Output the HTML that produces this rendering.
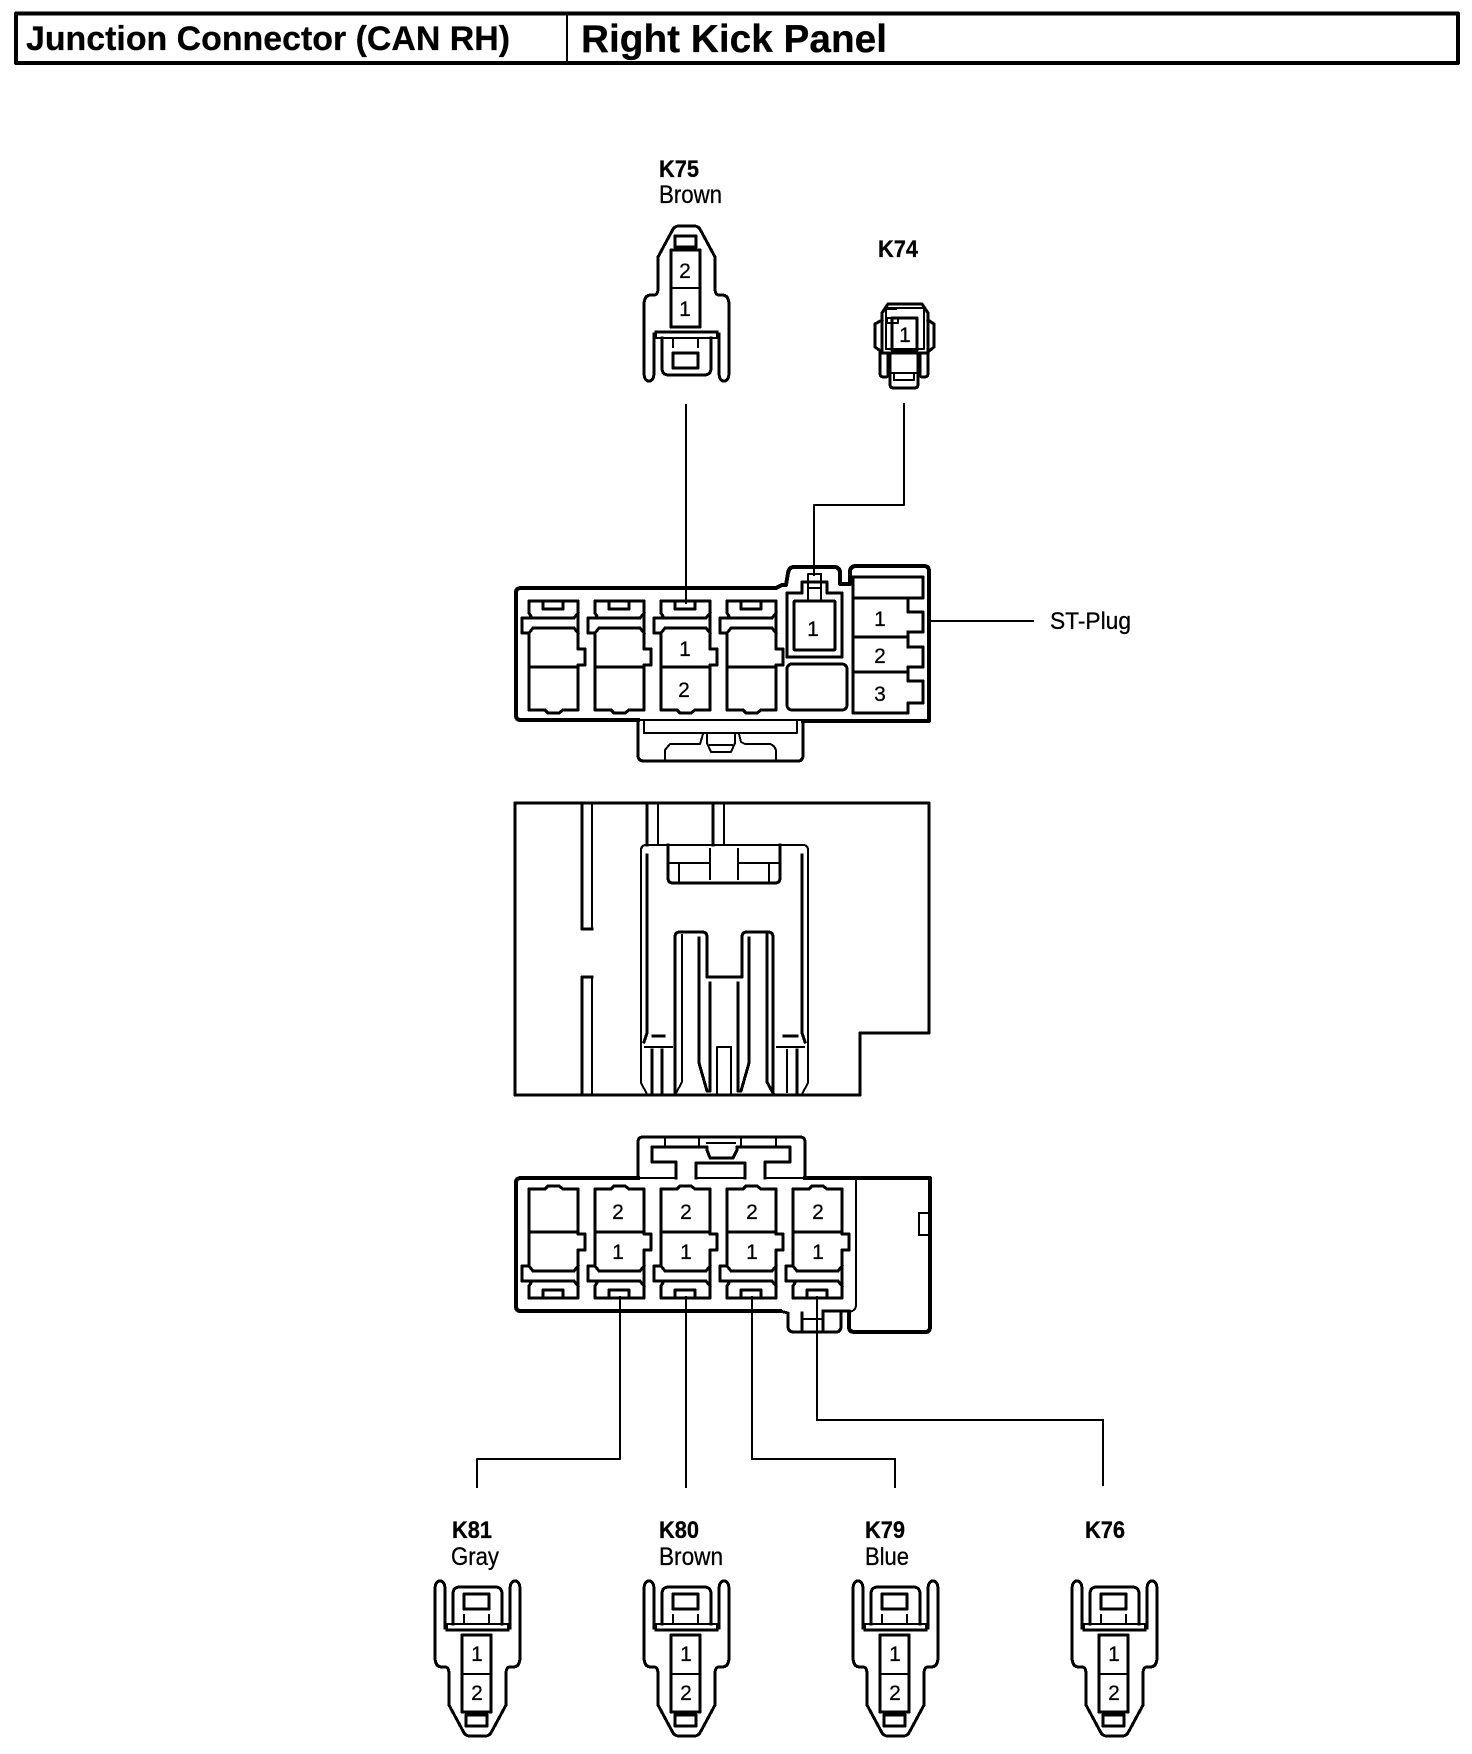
<!DOCTYPE html>
<html lang="en">
<head>
<meta charset="utf-8">
<title>Junction Connector (CAN RH) - Right Kick Panel</title>
<style>
html,body{margin:0;padding:0;background:#fff;}
svg{display:block;}
text{font-family:"Liberation Sans",Arial,sans-serif;fill:#000;stroke:#000;stroke-width:.25;}
.b{font-weight:bold;font-size:21px;}
.r{font-size:21.5px;}
.n{font-size:21px;text-anchor:middle;}
.s{fill:none;stroke:#000;stroke-width:3;stroke-linejoin:round;stroke-linecap:square;shape-rendering:crispEdges;}
.t{stroke-width:2;}
.w{stroke-width:4;}
</style>
</head>
<body>
<svg xmlns="http://www.w3.org/2000/svg" width="1472" height="1754" viewBox="0 0 1472 1754">
<defs>
<g id="sock">
<path d="M529 633V710H545L548 713H559L563 710H578V665H585V649H578V601H529V613L532 618H574L578 613"/>
<path d="M543 601V609H563V601"/>
<path d="M532 618H522V633H529L533 628H574L578 633"/>
<path d="M529 667H578"/>
</g>
<g id="plug">
<path d="M654 334V372Q654 381 649 381Q644 381 644 372V305Q644 295 651 295H654Q658 295 658 288V257L672 231Q674 226 679 226H694Q699 226 701 231L715 257V288Q715 295 719 295H722Q729 295 729 305V372Q729 381 724 381Q719 381 719 372V334"/>
<path d="M656 332H717"/>
<path class="t" d="M656 332V338H717V332M673 338V347M698 338V347"/>
<path d="M662 338V368Q662 375 669 375H704Q711 375 711 368V338"/>
<rect x="673" y="353" width="25" height="15"/>
<rect x="671" y="250" width="29" height="77"/>
<path class="t" d="M671 288H700"/>
<rect x="675" y="236" width="21" height="11"/>
</g>
</defs>

<!-- header -->
<g class="s">
<rect class="w" x="16" y="13.5" width="1442" height="49.5"/>
<path class="t" d="M567 14V63"/>
</g>
<text x="26" y="50" font-size="34" font-weight="bold" textLength="484" lengthAdjust="spacingAndGlyphs">Junction Connector (CAN RH)</text>
<text x="581" y="52" font-size="39" font-weight="bold" textLength="306" lengthAdjust="spacingAndGlyphs">Right Kick Panel</text>

<!-- K75 -->
<use href="#plug" class="s"/>
<text class="b" transform="translate(659 177) scale(1 1.15)" textLength="40" lengthAdjust="spacingAndGlyphs">K75</text>
<text class="r" transform="translate(659 203) scale(1 1.15)" textLength="63" lengthAdjust="spacingAndGlyphs">Brown</text>
<text class="n" x="685" y="278">2</text>
<text class="n" x="685" y="316">1</text>

<!-- K74 -->
<text class="b" transform="translate(878 257) scale(1 1.15)" textLength="40" lengthAdjust="spacingAndGlyphs">K74</text>
<g class="s">
<path d="M888 304H922L928 313V353H882V313Z"/>
<path class="t" d="M886 308H924V349H886Z"/>
<path d="M882 320L875 324V347L882 352M928 320L934 324V347L928 352"/>
<path d="M880 353V373Q880 377 884 377H886Q888 377 888 373V353M920 353V373Q920 377 922 377H924Q928 377 928 373V353"/>
<path d="M890 353V384Q890 388 894 388H914Q918 388 918 384V353"/>
<path class="t" d="M890 373H918M894 373V380H914V373"/>
<rect x="892" y="318" width="25" height="32"/>
<rect class="t" x="887" y="318" width="11" height="5"/>
<path class="t" d="M888 309H896"/>
</g>
<text class="n" x="905" y="342">1</text>

<!-- leaders top -->
<g class="s t">
<path d="M686 405V603"/>
<path d="M904 404V505H814V575"/>
<path d="M930 621H1033"/>
</g>

<!-- top connector -->
<g class="s">
<path class="w" d="M638 720H521Q516 720 516 715V593Q516 588 521 588H776L782 585H786L788 573Q789 567 794 567H834Q840 567 840 573V584H850V572Q850 566 856 566H924Q929 566 929 571V721H803"/>
<path class="t" d="M638 720H803"/>
<path d="M638 720V755Q638 761 644 761H798Q803 761 803 755V721"/>
<path class="t" d="M644 720V733H797V720"/>
<path class="t" d="M665 760V750L670 744H700L703 734M707 734V743L711 752H731L735 743V734M739 734L741 742L745 744H770Q776 746 776 752V760"/>
<path class="t" d="M710 745H732"/>
<use href="#sock"/>
<use href="#sock" x="66"/>
<use href="#sock" x="132"/>
<use href="#sock" x="198"/>
<path d="M787 593H802V582H827V593H842V657H787Z"/>
<rect x="794" y="601" width="41" height="49" rx="1"/>
<path class="t" d="M808 601V574H821V601M808 588H821"/>
<rect x="787" y="664" width="60" height="46" rx="5"/>
<path d="M853 577H923V598H853ZM853 598V713H908V703H923V681H908V672M853 637H908M853 672H908M908 598V612H923V632H908V647H923V667H908V672M908 632V647"/>
</g>
<text class="n" x="685" y="656">1</text>
<text class="n" x="684" y="697">2</text>
<text class="n" x="813" y="636">1</text>
<text class="n" x="880" y="626">1</text>
<text class="n" x="880" y="663">2</text>
<text class="n" x="880" y="701">3</text>
<text class="r" transform="translate(1050 629) scale(1 1.1)" font-size="22" textLength="81" lengthAdjust="spacingAndGlyphs">ST-Plug</text>

<!-- middle block -->
<g class="s">
<path d="M515 803H929V1033H860V1095H515Z"/>
<path d="M582 803V929H592"/>
<path class="t" d="M592 803V929"/>
<path d="M582 1095V977H592"/>
<path class="t" d="M592 977V1095"/>
<path d="M647 803V845M713 803V845"/>
<path class="t" d="M658 803V845M724 803V845"/>
<path class="t" d="M641 850Q641 845 646 845H803Q808 845 808 850V1083L802 1094M641 850V1083L647 1094"/>
<path d="M647 855V1033L644 1042M802 855V1033L805 1042"/>
<path d="M668 845V878Q668 883 673 883H775Q780 883 780 878V845"/>
<path class="t" d="M668 863H710M738 863H780M710 849V879M738 849V879M679 865V882M769 865V882"/>
<path d="M675 1094V937Q675 932 680 932H702Q707 932 707 937V977H742V937Q742 932 747 932H768Q773 932 773 937V1094"/>
<path class="t" d="M682 935V1082L676 1093"/>
<path d="M767 935V1082L773 1093"/>
<path d="M699 938V1063L707 1091H710V983M749 938V1063L741 1091H738V983"/>
<path class="t" d="M717 1095V1047H731V1095"/>
<path class="t" d="M645 1047H672M777 1047H804"/>
<path d="M653 1036H664M784 1036H797"/>
<path d="M652 1050V1092M662 1050V1092M797 1050V1092"/>
<path class="t" d="M787 1050V1092"/>
</g>

<!-- bottom connector -->
<g class="s">
<path class="w" d="M638 1178H521Q516 1178 516 1183V1306Q516 1311 521 1311H780"/>
<path class="w" d="M805 1178H930V1327Q930 1332 925 1332H855Q849 1332 849 1327V1312"/>
<path class="t" d="M849 1312Q856 1311 856 1305V1178"/>
<path d="M638 1178V1142Q638 1137 643 1137H800Q805 1137 805 1142V1178"/>
<path class="t" d="M638 1178H676M696 1178H745M765 1178H805"/>
<path d="M780 1311L788 1313V1326Q788 1332 794 1332H836Q841 1332 841 1326V1312M823 1311H849"/>
<path d="M802 1313V1332M823 1311V1332"/>
<path class="t" d="M802 1319H823"/>
<path class="t" d="M919 1213H928M919 1213V1235H928"/>
<path class="t" d="M665 1137V1147M699 1137V1147M741 1137V1147M776 1137V1147M707 1143H735"/>
<path d="M676 1178V1162H652V1147H707V1150L710 1158H733L737 1150V1147H790V1162H765V1178"/>
<path d="M696 1178V1163H745V1178"/>
<g transform="translate(0 1899) scale(1 -1)">
<use href="#sock"/>
<use href="#sock" x="66"/>
<use href="#sock" x="132"/>
<use href="#sock" x="198"/>
<use href="#sock" x="264"/>
</g>
</g>
<text class="n" x="618" y="1219">2</text>
<text class="n" x="618" y="1259">1</text>
<text class="n" x="686" y="1219">2</text>
<text class="n" x="686" y="1259">1</text>
<text class="n" x="752" y="1219">2</text>
<text class="n" x="752" y="1259">1</text>
<text class="n" x="818" y="1219">2</text>
<text class="n" x="818" y="1259">1</text>

<!-- leaders bottom -->
<g class="s t">
<path d="M620 1297V1459H477V1487"/>
<path d="M686 1297V1487"/>
<path d="M752 1297V1459H895V1487"/>
<path d="M817 1297V1420H1103V1485"/>
</g>

<!-- lower plugs -->
<g class="s">
<use href="#plug" transform="translate(-209 1962) scale(1 -1)"/>
<use href="#plug" transform="translate(0 1962) scale(1 -1)"/>
<use href="#plug" transform="translate(209 1962) scale(1 -1)"/>
<use href="#plug" transform="translate(428 1962) scale(1 -1)"/>
</g>
<text class="b" transform="translate(452 1538) scale(1 1.15)" textLength="40" lengthAdjust="spacingAndGlyphs">K81</text>
<text class="r" transform="translate(451 1565) scale(1 1.15)" textLength="48" lengthAdjust="spacingAndGlyphs">Gray</text>
<text class="b" transform="translate(659 1538) scale(1 1.15)" textLength="40" lengthAdjust="spacingAndGlyphs">K80</text>
<text class="r" transform="translate(659 1565) scale(1 1.15)" textLength="64" lengthAdjust="spacingAndGlyphs">Brown</text>
<text class="b" transform="translate(865 1538) scale(1 1.15)" textLength="40" lengthAdjust="spacingAndGlyphs">K79</text>
<text class="r" transform="translate(865 1565) scale(1 1.15)" textLength="44" lengthAdjust="spacingAndGlyphs">Blue</text>
<text class="b" transform="translate(1085 1538) scale(1 1.15)" textLength="40" lengthAdjust="spacingAndGlyphs">K76</text>
<text class="n" x="477" y="1661">1</text>
<text class="n" x="477" y="1700">2</text>
<text class="n" x="686" y="1661">1</text>
<text class="n" x="686" y="1700">2</text>
<text class="n" x="895" y="1661">1</text>
<text class="n" x="895" y="1700">2</text>
<text class="n" x="1114" y="1661">1</text>
<text class="n" x="1114" y="1700">2</text>
</svg>
</body>
</html>
